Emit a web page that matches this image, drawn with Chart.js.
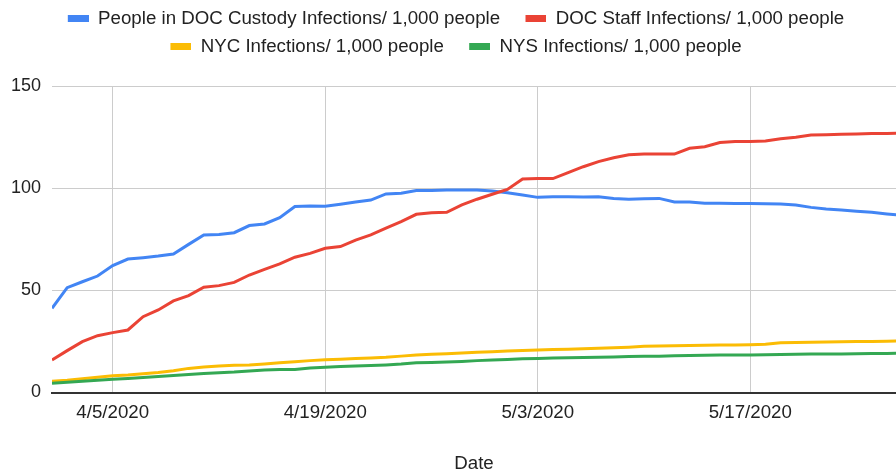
<!DOCTYPE html>
<html>
<head>
<meta charset="utf-8">
<script src="https://cdn.jsdelivr.net/npm/chart.js@4"></script>
<style>
  body { margin: 0; background: #fff; }
  #wrap { width: 896px; height: 473px; position: relative; }
</style>
</head>
<body>
<div id="wrap"><canvas id="myChart"></canvas></div>
<script>
// one value per day, 4/1/2020 .. 5/27/2020
const dates = [
  '4/1/2020','4/2/2020','4/3/2020','4/4/2020','4/5/2020','4/6/2020','4/7/2020','4/8/2020','4/9/2020','4/10/2020',
  '4/11/2020','4/12/2020','4/13/2020','4/14/2020','4/15/2020','4/16/2020','4/17/2020','4/18/2020','4/19/2020','4/20/2020',
  '4/21/2020','4/22/2020','4/23/2020','4/24/2020','4/25/2020','4/26/2020','4/27/2020','4/28/2020','4/29/2020','4/30/2020',
  '5/1/2020','5/2/2020','5/3/2020','5/4/2020','5/5/2020','5/6/2020','5/7/2020','5/8/2020','5/9/2020','5/10/2020',
  '5/11/2020','5/12/2020','5/13/2020','5/14/2020','5/15/2020','5/16/2020','5/17/2020','5/18/2020','5/19/2020','5/20/2020',
  '5/21/2020','5/22/2020','5/23/2020','5/24/2020','5/25/2020','5/26/2020','5/27/2020'
];
const tickLabels = ['4/5/2020', '4/19/2020', '5/3/2020', '5/17/2020'];
const yTicks = [0, 50, 100, 150];

const custody = [
  41.2, 51.3, 54.2, 57.0, 62.1, 65.3, 66.0, 66.8, 67.8, 72.5, 77.1,
  77.3, 78.2, 81.7, 82.5, 85.6, 91.0, 91.3, 91.1, 92.1, 93.2, 94.2, 97.2,
  97.5, 98.8, 98.8, 99.1, 99.1, 99.1, 98.6, 97.8, 96.7, 95.5, 95.8,
  95.8, 95.7, 95.8, 95.0, 94.6, 94.8, 95.0, 93.2, 93.2, 92.6, 92.6,
  92.5, 92.5, 92.4, 92.3, 91.8, 90.6, 89.8, 89.3, 88.7, 88.2, 87.4, 86.7
];
const staff = [
  15.9, 20.5, 24.9, 27.8, 29.3, 30.6, 37.1, 40.4, 44.8, 47.4, 51.5,
  52.3, 53.9, 57.5, 60.3, 62.9, 66.2, 68.1, 70.6, 71.4, 74.6, 77.1, 80.4,
  83.6, 87.2, 88.0, 88.2, 91.8, 94.6, 97.0, 99.4, 104.5, 104.7, 104.7,
  107.6, 110.5, 113.0, 114.9, 116.4, 116.7, 116.7, 116.7, 119.5, 120.3, 122.3,
  122.8, 122.8, 123.1, 124.2, 124.9, 126.0, 126.2, 126.4, 126.5, 126.7, 126.8, 127.0
];
const nyc = [
  5.5, 6.0, 6.7, 7.5, 8.2, 8.6, 9.2, 9.8, 10.6, 11.8, 12.5,
  13.0, 13.3, 13.5, 14.0, 14.6, 15.1, 15.6, 16.0, 16.3, 16.6, 16.9, 17.2,
  17.8, 18.3, 18.7, 19.0, 19.3, 19.7, 20.0, 20.3, 20.6, 20.8, 21.0,
  21.2, 21.4, 21.6, 21.9, 22.2, 22.6, 22.8, 22.9, 23.0, 23.1, 23.2,
  23.3, 23.4, 23.6, 24.4, 24.5, 24.6, 24.7, 24.8, 24.9, 25.0, 25.1, 25.2
];
const nys = [
  4.5, 5.0, 5.5, 6.0, 6.5, 6.9, 7.3, 7.8, 8.3, 8.8, 9.3,
  9.7, 10.0, 10.5, 11.0, 11.2, 11.3, 12.0, 12.4, 12.7, 13.0, 13.2, 13.5,
  13.9, 14.5, 14.7, 14.9, 15.2, 15.6, 15.9, 16.2, 16.5, 16.7, 16.9,
  17.0, 17.1, 17.3, 17.4, 17.6, 17.7, 17.8, 18.0, 18.1, 18.2, 18.3,
  18.3, 18.4, 18.5, 18.6, 18.7, 18.8, 18.9, 18.9, 19.0, 19.1, 19.1, 19.2
];

const seriesNames = [
  'People in DOC Custody Infections/ 1,000 people',
  'DOC Staff Infections/ 1,000 people',
  'NYC Infections/ 1,000 people',
  'NYS Infections/ 1,000 people'
];
const colors = ['#4285f4', '#ea4335', '#fbbc04', '#34a853'];

const FONT = "'Liberation Sans', Arial, sans-serif";
const toPoints = arr => arr.map((v, i) => ({x: i, y: v}));

// legend swatch: 21x7 box with some empty room on its left, so items sit further apart
const SWATCH_GAP = 16, SWATCH_W = 21, SWATCH_H = 7;
function makeSwatch(color) {
  const c = document.createElement('canvas');
  c.width = SWATCH_GAP + SWATCH_W;
  c.height = SWATCH_H;
  const g = c.getContext('2d');
  g.fillStyle = color;
  g.fillRect(SWATCH_GAP, 0, SWATCH_W, SWATCH_H);
  return c;
}
const swatches = colors.map(makeSwatch);

const datasets = [custody, staff, nyc, nys].map((arr, i) => ({
  label: seriesNames[i],
  data: toPoints(arr),
  borderColor: colors[i],
  backgroundColor: colors[i],
  borderWidth: 3,
  pointRadius: 0,
  tension: 0,
  order: 3 - i
}));

// legend block is taller than its two rows, chart area starts lower
const legendSpacer = {
  id: 'legendSpacer',
  beforeLayout: function(chart) {
    const lg = chart.legend;
    if (lg && !lg._spaced) {
      const fit = lg.fit;
      lg.fit = function() { fit.call(this); this.height = 86; };
      lg._spaced = true;
    }
  }
};

const ctx = document.getElementById('myChart');
const chart = new Chart(ctx, {
  type: 'line',
  data: { datasets: datasets },
  plugins: [legendSpacer],
  options: {
    responsive: true,
    maintainAspectRatio: false,
    animation: false,
    layout: { padding: 0 },
    plugins: {
      tooltip: { enabled: false },
      legend: {
        position: 'top',
        labels: {
          font: { family: FONT, size: 18.7 },
          color: '#222',
          usePointStyle: true,
          pointStyleWidth: SWATCH_GAP + SWATCH_W,
          boxHeight: SWATCH_H,
          padding: 9.3,
          generateLabels: function(c) {
            return Chart.defaults.plugins.legend.labels.generateLabels(c)
              .sort((a, b) => a.datasetIndex - b.datasetIndex)
              .map(l => Object.assign(l, { pointStyle: swatches[l.datasetIndex], lineWidth: 0 }));
          }
        }
      }
    },
    scales: {
      x: {
        type: 'linear',
        min: 0,
        max: 55.6,
        afterFit: function(scale) { scale.height = 80.5; },
        afterBuildTicks: function(axis) {
          axis.ticks = tickLabels.map(t => ({ value: dates.indexOf(t) }));
        },
        ticks: {
          font: { family: FONT, size: 18.7 },
          color: '#222',
          padding: 9,
          maxRotation: 0,
          autoSkip: false,
          callback: function(value) { return dates[value]; }
        },
        grid: { color: '#cccccc', lineWidth: 1, drawTicks: false },
        border: { display: true, color: '#333333', width: 2 },
        title: {
          display: true,
          text: 'Date',
          font: { family: FONT, size: 18.7 },
          color: '#222',
          padding: { top: 0, bottom: -2 }
        }
      },
      y: {
        min: 0,
        max: 150,
        afterFit: function(scale) { scale.width = 52; },
        afterBuildTicks: function(axis) {
          axis.ticks = yTicks.map(v => ({ value: v }));
        },
        ticks: {
          font: { family: FONT, size: 18 },
          color: '#222',
          padding: 11
        },
        grid: {
          color: c => (c.tick && c.tick.value === 0) ? '#333333' : '#cccccc',
          lineWidth: c => (c.tick && c.tick.value === 0) ? 2 : 1,
          drawTicks: false
        },
        border: { display: false }
      }
    }
  }
});
</script>
</body>
</html>
